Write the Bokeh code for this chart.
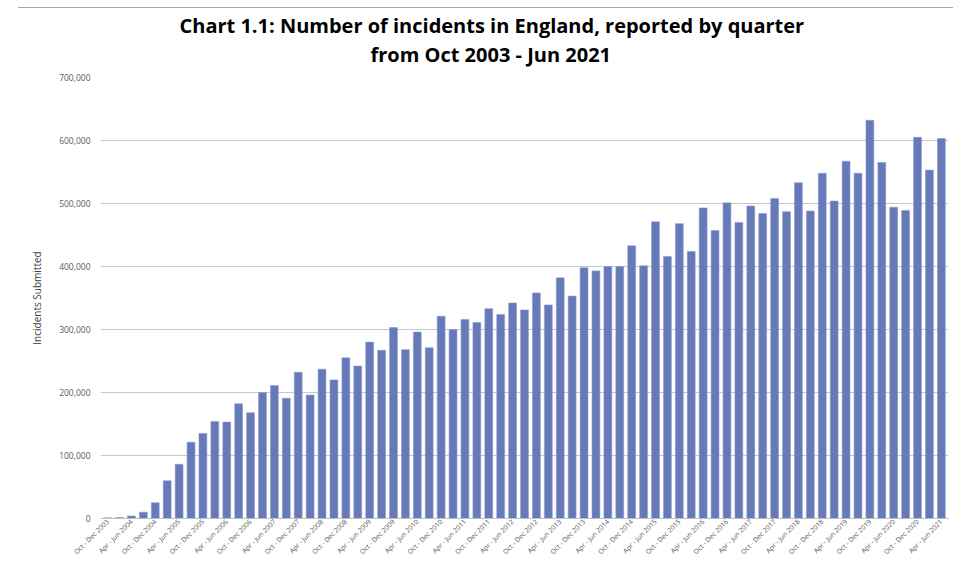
import math
from bokeh.plotting import figure
from bokeh.models import FixedTicker, NumeralTickFormatter, ColumnDataSource, Title, Div
from bokeh.layouts import column
from bokeh.embed import file_html
from bokeh.resources import INLINE

quarter_names = ["Oct - Dec", "Jan - Mar", "Apr - Jun", "Jul - Sep"]
start_year = 2003
values = [
    1000, 1500, 4000, 10000, 25000, 60000, 86000, 121000, 135000, 154000,
    153000, 182000, 168000, 200000, 211000, 191000, 232000, 196000, 237000, 220000,
    255000, 242000, 280000, 267000, 303000, 268000, 296000, 271000, 321000, 300000,
    316000, 311000, 333000, 324000, 342000, 331000, 358000, 339000, 382000, 353000,
    398000, 393000, 400000, 400000, 433000, 401000, 471000, 416000, 468000, 424000,
    493000, 457000, 501000, 470000, 496000, 484000, 508000, 487000, 533000, 488000,
    548000, 504000, 567000, 548000, 632000, 565000, 494000, 489000, 605000, 553000,
    603000,
]
title_lines = ["Chart 1.1: Number of incidents in England, reported by quarter",
               "from Oct 2003 - Jun 2021"]

labels = []
for i in range(len(values)):
    q = quarter_names[i % 4]
    yr = start_year + (i + 3) // 4
    labels.append(f"{q} {yr}")

x = list(range(len(values)))
src = ColumnDataSource(dict(x=x, v=values))

p = figure(width=953, height=554, output_backend="svg", toolbar_location=None, title=None,
           x_range=(-0.6, len(values) - 0.4), y_range=(0, 700000),
           min_border_left=100, min_border_right=5, min_border_top=69, min_border_bottom=40)

p.vbar(x="x", top="v", width=0.66, source=src, fill_color="#6679b8", line_color="#8a9ad0", line_width=0.6)

spacer = Title(text=" ", text_font_size="1px", standoff=7)
t2 = Title(text=title_lines[1], align="left", offset=270, standoff=0,
           text_font="Open Sans", text_font_style="bold", text_font_size="20px", text_color="#000000")
t1 = Title(text=title_lines[0], align="left", offset=79, standoff=0,
           text_font="Open Sans", text_font_style="bold", text_font_size="20px", text_color="#000000")
p.add_layout(spacer, "above")
p.add_layout(t2, "above")
p.add_layout(t1, "above")

p.xaxis.ticker = FixedTicker(ticks=x[::2])
p.xaxis.major_label_overrides = {i: labels[i] for i in x[::2]}
p.xaxis.major_label_orientation = math.pi / 4
p.xaxis.major_label_text_font_size = "6.8px"
p.xaxis.major_label_text_line_height = 1.0
p.xaxis.major_label_text_color = "#595959"
p.xaxis.major_label_text_font = "Open Sans"
p.xaxis.major_tick_line_color = None
p.xaxis.minor_tick_line_color = None
p.xaxis.major_tick_out = 0
p.xaxis.minor_tick_out = 0
p.xaxis.major_tick_in = 0
p.xaxis.axis_line_color = "#bfbfbf"
p.xaxis.major_label_standoff = 2

p.yaxis.ticker = FixedTicker(ticks=list(range(0, 700001, 100000)))
p.yaxis.formatter = NumeralTickFormatter(format="0,0")
p.yaxis.axis_label = "Incidents Submitted"
p.yaxis.axis_label_text_font = "Open Sans"
p.yaxis.axis_label_text_font_size = "10px"
p.yaxis.axis_label_text_font_style = "normal"
p.yaxis.axis_label_text_color = "#404040"
p.yaxis.axis_label_standoff = 12
p.yaxis.major_label_text_font = "Open Sans"
p.yaxis.major_label_text_font_size = "8.5px"
p.yaxis.major_label_text_color = "#595959"
p.yaxis.major_tick_out = 0
p.yaxis.minor_tick_out = 0
p.yaxis.major_tick_in = 0
p.yaxis.major_label_standoff = 10
p.yaxis.axis_line_color = None
p.yaxis.major_tick_line_color = None
p.yaxis.minor_tick_line_color = None

p.xgrid.grid_line_color = None
p.ygrid.grid_line_color = "#c8c8c8"
p.ygrid.grid_line_width = 1
p.outline_line_color = None

top_line = Div(text="", width=935, height=7, margin=(0, 0, 0, 18),
               styles={"border-bottom": "1px solid #a6a6a6", "box-sizing": "content-box"})

layout = column(top_line, p, spacing=0)

open("out.html", "w").write(file_html(layout, INLINE))
